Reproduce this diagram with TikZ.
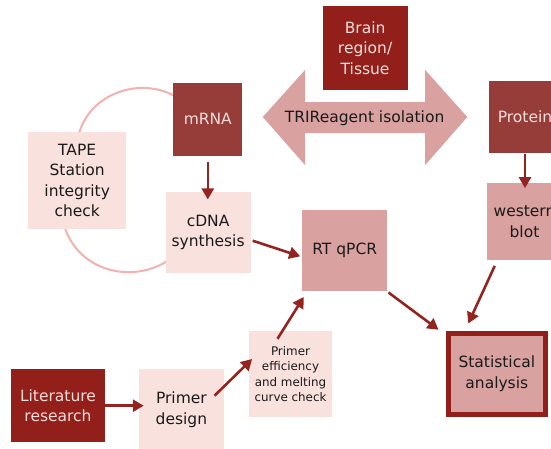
\documentclass[tikz,border=0pt]{standalone}
\usepackage{fontspec}
\setmainfont{DejaVu Sans}
\usetikzlibrary{arrows.meta}
\definecolor{darkred}{HTML}{931F1B}
\definecolor{brick}{HTML}{963C39}
\definecolor{rose}{HTML}{D9A1A0}
\definecolor{blush}{HTML}{F9E1DD}
\definecolor{arrowred}{HTML}{94241F}
\definecolor{ringpink}{HTML}{F2B2B0}
\definecolor{inkdark}{HTML}{1A1A1A}
\definecolor{paletext}{HTML}{F6DEDA}
\begin{document}
\begin{tikzpicture}[x=1pt,y=-1pt,
  box/.style={rectangle, inner sep=0pt, align=center,
    font=\fontsize{15.5}{20.5}\selectfont, text=inkdark},
  darkbox/.style={box, fill=darkred, text=paletext},
  brickbox/.style={box, fill=brick, text=paletext},
  rosebox/.style={box, fill=rose},
  blushbox/.style={box, fill=blush},
  flow/.style={draw=arrowred, line width=2.6pt, -{Triangle[length=11pt,width=12pt]}},
  ring/.style={draw=ringpink, line width=2pt},
  isoarrow/.style={fill=rose},
]
\fill[white] (0,0) rectangle (551,448);
\useasboundingbox (0,0) rectangle (551,448);

% quality-check loop around the RNA steps (its ends disappear under the boxes)
\coordinate (ringA) at (78,138);
\coordinate (ringB) at (178,98);
\coordinate (ringC) at (63,220);
\coordinate (ringD) at (172,258);
\draw[ring] (ringA) .. controls (86,95) and (140,74) .. (ringB);
\draw[ring] (ringC) .. controls (72,268) and (130,288) .. (ringD);

% isolation double arrow
\fill[isoarrow] (262.8,117) -- (305,70) -- (305,102) -- (425.2,102) -- (425.2,70)
  -- (467.3,117) -- (425.2,165) -- (425.2,133) -- (305,133) -- (305,165) -- cycle;
\node[box] (iso) at (364.6,118) {TRIReagent isolation};

% boxes
\node[darkbox, minimum width=85pt, minimum height=84pt] (brain) at (365.1,48) {Brain\\region/\\Tissue};
\node[brickbox, minimum width=69pt, minimum height=73.3pt] (mrna) at (207.8,119.3) {mRNA};
\node[brickbox, minimum width=71.4pt, minimum height=72.3pt] (protein) at (525,117.2) {Protein};
\node[blushbox, minimum width=97.7pt, minimum height=97pt] (tape) at (77.2,180.5) {TAPE\\Station\\integrity\\check};
\node[blushbox, minimum width=84.8pt, minimum height=81.3pt] (cdna) at (208.1,232.3) {cDNA\\synthesis};
\node[rosebox, minimum width=85pt, minimum height=81pt] (rtqpcr) at (344.7,250.5) {RT qPCR};
\node[rosebox, minimum width=75.6pt, minimum height=76.7pt] (western) at (524.5,221.7) {western\\blot};
\node[rosebox, draw=darkred, line width=5pt, minimum width=96.5pt, minimum height=80.7pt] (stat) at (496.8,373.8) {Statistical\\analysis};
\node[darkbox, minimum width=93.5pt, minimum height=73.3pt] (lit) at (58,405.7) {Literature\\research};
\node[blushbox, minimum width=84.8pt, minimum height=81pt] (pdesign) at (181.4,409.5) {Primer\\design};
\node[blushbox, minimum width=83pt, minimum height=85.4pt,
  font=\fontsize{11.9}{15.5}\selectfont] (peff) at (290.5,374) {Primer\\efficiency\\and melting\\curve check};

% workflow connectors
\draw[flow] ([yshift=-6pt]mrna.south) -- ([yshift=-8pt]mrna.south |- cdna.north);
\draw[flow] (protein.south) -- ([yshift=-5pt]protein.south |- western.north);
\draw[flow] ([shift={(2pt,-8.4pt)}]cdna.east) -- ([shift={(-1.8pt,-5.8pt)}]rtqpcr.west);
\draw[flow] ([shift={(-13pt,-7.7pt)}]peff.north) -- ([shift={(1.8pt,-5.7pt)}]rtqpcr.south west);
\draw[flow] ([shift={(-9.5pt,13.8pt)}]pdesign.east) -- ([shift={(3.3pt,15pt)}]peff.west);
\draw[flow] (lit.east) -- ([xshift=5pt]lit.east -| pdesign.west);
\draw[flow] ([shift={(1.1pt,-1.3pt)}]rtqpcr.south east) -- ([shift={(-7.5pt,1.2pt)}]stat.north west);
\draw[flow] ([shift={(-29.8pt,-5.7pt)}]western.south) -- ([shift={(-28.5pt,7.5pt)}]stat.north);
\end{tikzpicture}
\end{document}
